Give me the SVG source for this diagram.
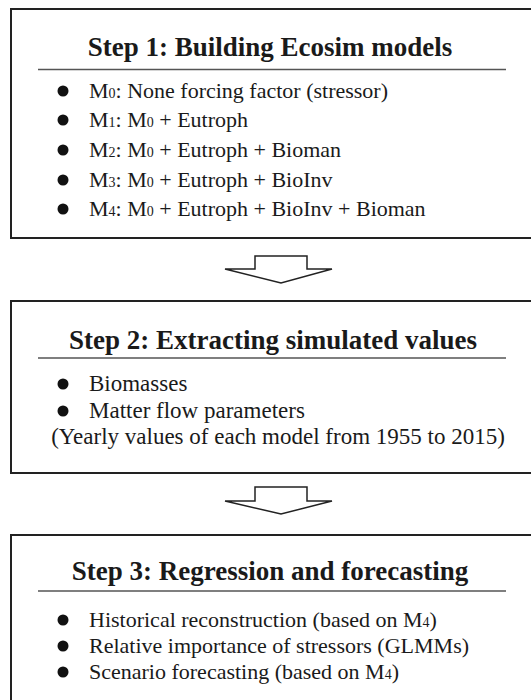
<svg xmlns="http://www.w3.org/2000/svg" width="531" height="700" viewBox="0 0 531 700">
<style>
.box{fill:none;stroke:#222;stroke-width:2}
.rule{stroke:#555;stroke-width:1.5}
.h{font-family:'Liberation Serif','Times New Roman','DejaVu Serif',serif;font-weight:bold;font-size:27px;fill:#1a1a1a;text-anchor:middle}
.t{font-family:'Liberation Serif','Times New Roman','DejaVu Serif',serif;font-size:22px;fill:#1a1a1a}
.t2{font-size:23px}
.s{font-size:14px}
.dot{fill:#111}
.arrow{fill:#fff;stroke:#222;stroke-width:1.5;stroke-linejoin:miter}
</style>
<rect width="531" height="700" fill="#fff"/>
<g id="connectors">
<path class="arrow" d="M255,256 H307 V269 H332 L281,283 L225,269 H255 Z"/>
<path class="arrow" d="M255,487 H307 V501 H332 L281,514 L225,501 H255 Z"/>
</g>
<g id="step1">
<path class="box" d="M540,9 H11 V238 H540"/>
<text class="h" x="270" y="56">Step 1: Building Ecosim models</text>
<line class="rule" x1="38" y1="69.5" x2="506" y2="69.5"/>
<circle class="dot" cx="63" cy="91" r="5.5"/>
<circle class="dot" cx="63" cy="120" r="5.5"/>
<circle class="dot" cx="63" cy="150" r="5.5"/>
<circle class="dot" cx="63" cy="180" r="5.5"/>
<circle class="dot" cx="63" cy="209" r="5.5"/>
<text class="t" x="89" y="98">M<tspan class="s">0</tspan>: None forcing factor (stressor)</text>
<text class="t" x="89" y="127">M<tspan class="s">1</tspan>: M<tspan class="s">0</tspan> + Eutroph</text>
<text class="t" x="89" y="157">M<tspan class="s">2</tspan>: M<tspan class="s">0</tspan> + Eutroph + Bioman</text>
<text class="t" x="89" y="187">M<tspan class="s">3</tspan>: M<tspan class="s">0</tspan> + Eutroph + BioInv</text>
<text class="t" x="89" y="216">M<tspan class="s">4</tspan>: M<tspan class="s">0</tspan> + Eutroph + BioInv + Bioman</text>
</g>
<g id="step2">
<path class="box" d="M540,301 H11 V473 H540"/>
<text class="h" x="273" y="349">Step 2: Extracting simulated values</text>
<line class="rule" x1="38" y1="358" x2="506" y2="358"/>
<circle class="dot" cx="63" cy="384" r="5.5"/>
<circle class="dot" cx="63" cy="411" r="5.5"/>
<text class="t t2" x="89" y="391">Biomasses</text>
<text class="t t2" x="89" y="418">Matter flow parameters</text>
<text class="t t2" x="278" y="444" text-anchor="middle">(Yearly values of each model from 1955 to 2015)</text>
</g>
<g id="step3">
<path class="box" d="M540,535 H11 V710"/>
<text class="h" x="270" y="580">Step 3: Regression and forecasting</text>
<line class="rule" x1="38" y1="591" x2="506" y2="591"/>
<circle class="dot" cx="63" cy="620" r="5.5"/>
<circle class="dot" cx="63" cy="646" r="5.5"/>
<circle class="dot" cx="63" cy="672" r="5.5"/>
<text class="t" x="89" y="627">Historical reconstruction (based on M<tspan class="s">4</tspan>)</text>
<text class="t" x="89" y="653">Relative importance of stressors (GLMMs)</text>
<text class="t" x="89" y="679">Scenario forecasting (based on M<tspan class="s">4</tspan>)</text>
</g>
</svg>
